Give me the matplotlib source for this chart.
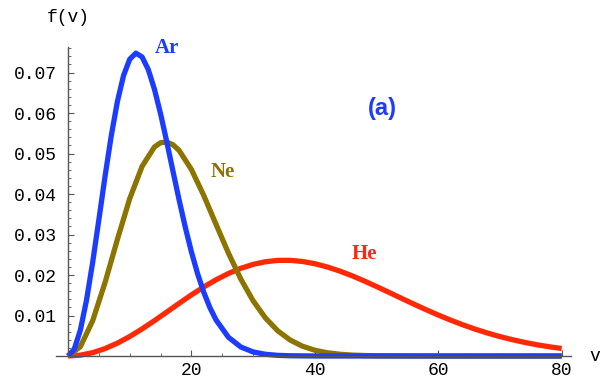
import matplotlib
matplotlib.use('Agg')
import matplotlib.pyplot as plt
from matplotlib.ticker import MultipleLocator

# speed values (v) and distribution values f(v)
v_ar = [0, 1, 2, 3, 4, 5, 6, 7, 8, 9, 10, 11, 12, 13, 14, 15, 16, 17, 18, 19, 20,
        21, 22, 23, 24, 26, 28, 30, 32, 34, 36, 40, 50, 60, 70, 80]
f_ar = [0.0, 0.00164, 0.00639, 0.01381, 0.02319, 0.03368, 0.04436, 0.05433, 0.06283,
        0.06927, 0.07329, 0.07479, 0.07385, 0.07075, 0.06590, 0.05981, 0.05290, 0.04568,
        0.03855, 0.03182, 0.02569, 0.02030, 0.01572, 0.01192, 0.00887, 0.00462, 0.00223,
        0.00100, 0.00042, 0.00016, 0.00006, 0.0, 0.0, 0.0, 0.0, 0.0]

v_ne = [0, 2, 4, 6, 8, 10, 12, 14, 15, 16, 17, 18, 20, 22, 24, 26, 28, 30, 32, 34, 36,
        38, 40, 42, 44, 46, 48, 50, 60, 70, 80]
f_ne = [0.0, 0.00230, 0.00874, 0.01814, 0.02879, 0.03887, 0.04682, 0.05161, 0.05267,
        0.05284, 0.05218, 0.05076, 0.04604, 0.03962, 0.03246, 0.02539, 0.01900, 0.01362,
        0.00937, 0.00620, 0.00394, 0.00241, 0.00142, 0.00080, 0.00044, 0.00023, 0.00012,
        0.00006, 0.0, 0.0, 0.0]

v_he = [0, 2, 4, 6, 8, 10, 12, 14, 16, 18, 20, 22, 24, 26, 28, 30, 32, 34, 36, 38, 40,
        42, 44, 46, 48, 50, 52, 54, 56, 58, 60, 62, 64, 66, 68, 70, 72, 74, 76, 78, 80]
f_he = [0.0, 0.00021, 0.00082, 0.00183, 0.00317, 0.00481, 0.00669, 0.00872, 0.01085,
        0.01300, 0.01509, 0.01705, 0.01883, 0.02038, 0.02165, 0.02263, 0.02328, 0.02361,
        0.02362, 0.02334, 0.02279, 0.02199, 0.02099, 0.01983, 0.01853, 0.01715, 0.01572,
        0.01427, 0.01284, 0.01145, 0.01011, 0.00886, 0.00769, 0.00662, 0.00566, 0.00479,
        0.00403, 0.00336, 0.00277, 0.00228, 0.00185]

x_ticks = [20, 40, 60, 80]
y_ticks = [0.01, 0.02, 0.03, 0.04, 0.05, 0.06, 0.07]

blue = '#1c3cff'
olive = '#8c7400'
red = '#ff2a05'

fig = plt.figure(figsize=(6, 3.85), dpi=100)
ax = fig.add_axes([0.0928, 0.0648, 0.8588, 0.8131])

line_kw = dict(lw=3.8, solid_capstyle='butt', solid_joinstyle='round', clip_on=False)
ax.plot(v_he, f_he, color=red, **line_kw)
ax.plot(v_ne, f_ne, color=olive, **line_kw)
ax.plot(v_ar, f_ar, color=blue, **line_kw)

ax.set_xlim(-2, 81.5)
ax.set_ylim(-0.001, 0.0763)

# Mathematica style axes crossing at the origin
for s in ['top', 'right']:
    ax.spines[s].set_visible(False)
ax.spines['left'].set_position(('data', 0))
ax.spines['bottom'].set_position(('data', 0))
ax.spines['left'].set_bounds(0, 0.0763)
ax.spines['bottom'].set_bounds(-2, 81.5)
for s in ['left', 'bottom']:
    ax.spines[s].set_color('#555555')
    ax.spines[s].set_linewidth(1.0)

ax.set_xticks(x_ticks)
ax.set_yticks(y_ticks)
ax.set_yticklabels(['%.2f' % t for t in y_ticks])
ax.xaxis.set_minor_locator(MultipleLocator(5))
ax.yaxis.set_minor_locator(MultipleLocator(0.002))
ax.tick_params(which='major', direction='in', length=4, width=0.8, color='#555555')
ax.tick_params(which='minor', direction='in', length=2, width=0.6, color='#555555')
ax.tick_params(axis='y', pad=8)
ax.tick_params(axis='x', pad=4)
for lab in ax.get_xticklabels() + ax.get_yticklabels():
    lab.set_family('Liberation Mono')
    lab.set_fontsize(13)

ax.text(0, 0.0837, 'f(v)', family='Liberation Mono', fontsize=13, ha='center', va='center')
ax.text(85.4, 0, 'v', family='Liberation Mono', fontsize=13, ha='center', va='center',
        clip_on=False)

ax.text(16.0, 0.0760, 'Ar', family='Liberation Serif', weight='bold', fontsize=15,
        color=blue, ha='center', va='center')
ax.text(25.0, 0.0454, 'Ne', family='Liberation Serif', weight='bold', fontsize=15,
        color=olive, ha='center', va='center')
ax.text(48.1, 0.0252, 'He', family='Liberation Serif', weight='bold', fontsize=15,
        color=red, ha='center', va='center')
ax.text(51.0, 0.0612, '(a)', family='Liberation Sans', weight='bold', fontsize=17,
        color=blue, ha='center', va='center')

fig.savefig('out.png', dpi=100)
